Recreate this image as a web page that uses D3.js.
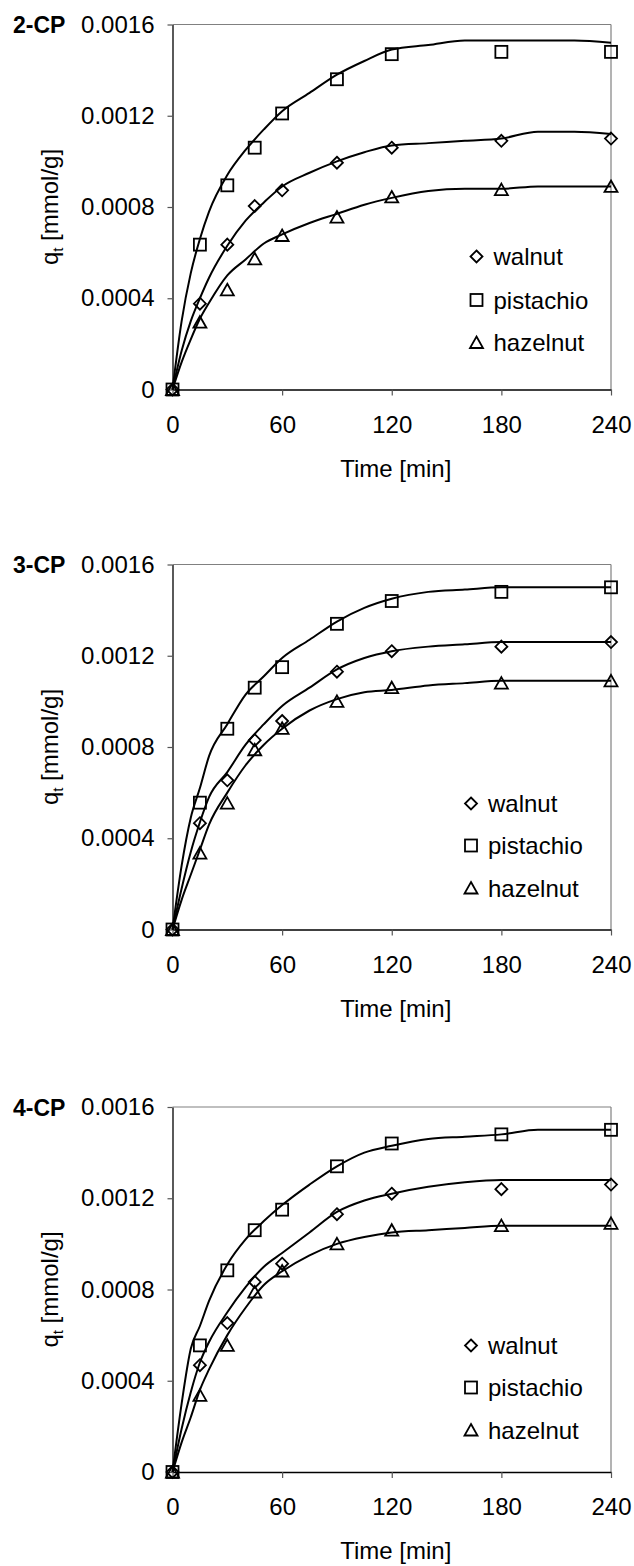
<!DOCTYPE html>
<html>
<script src="https://d3js.org/d3.v7.min.js"></script>
<style>
    body { margin: 0; background: #fff; }
    text { font-family: "Liberation Sans", Arial, sans-serif; fill: #000; }
</style>

<body>
    <div id="myPlot"></div>

    <script>
        // sampling times of the measured points and of the fitted curves [min]
        const times = [0, 15, 30, 45, 60, 90, 120, 180, 240]
        const fitTimes = [0, 5, 10, 15, 20, 30, 40, 50, 60, 75, 90, 105, 120, 140, 160, 180, 200, 220, 240]

        const xTicks = [0, 60, 120, 180, 240]
        const yTicks = [0, 0.0004, 0.0008, 0.0012, 0.0016]
        const panelNames = ["2-CP", "3-CP", "4-CP"]
        const seriesNames = ["walnut", "pistachio", "hazelnut"]

        // 2-CP
        const walnut2 = [0, 0.000376, 0.000635, 0.000804, 0.000873, 0.000994, 0.00106, 0.00109, 0.0011]
        const pistachio2 = [0, 0.000635, 0.000895, 0.00106, 0.00121, 0.00136, 0.00147, 0.00148, 0.00148]
        const hazelnut2 = [0, 0.000295, 0.000437, 0.000573, 0.000675, 0.000756, 0.000844, 0.000876, 0.00089]
        const walnut2Fit = [0, 0.00017, 0.00030, 0.00040, 0.00049, 0.00063, 0.00074, 0.00082, 0.00089, 0.00095, 0.00100, 0.00104, 0.00107, 0.00108, 0.00109, 0.00110, 0.00113, 0.00113, 0.00112]
        const pistachio2Fit = [0, 0.00030, 0.00051, 0.00066, 0.00078, 0.00094, 0.00105, 0.00114, 0.00122, 0.00130, 0.00138, 0.00144, 0.00149, 0.00151, 0.00153, 0.00153, 0.00153, 0.00153, 0.00152]
        const hazelnut2Fit = [0, 0.00012, 0.00022, 0.00031, 0.00038, 0.00050, 0.00057, 0.00064, 0.00068, 0.00073, 0.00077, 0.00081, 0.00084, 0.00087, 0.00088, 0.00088, 0.00089, 0.00089, 0.00089]

        // 3-CP
        const walnut3 = [0, 0.000466, 0.000654, 0.00083, 0.000914, 0.00113, 0.00122, 0.00124, 0.00126]
        const pistachio3 = [0, 0.000556, 0.00088, 0.00106, 0.00115, 0.00134, 0.00144, 0.00148, 0.0015]
        const hazelnut3 = [0, 0.000335, 0.000554, 0.000788, 0.000882, 0.001, 0.00106, 0.00108, 0.00109]
        const walnut3Fit = [0, 0.00018, 0.00034, 0.00047, 0.00058, 0.00069, 0.00081, 0.00090, 0.00098, 0.00106, 0.00114, 0.00119, 0.00122, 0.00124, 0.00125, 0.00126, 0.00126, 0.00126, 0.00126]
        const pistachio3Fit = [0, 0.00028, 0.00049, 0.00062, 0.00076, 0.00090, 0.00103, 0.00111, 0.00119, 0.00127, 0.00135, 0.00141, 0.00145, 0.00148, 0.00149, 0.00150, 0.00150, 0.00150, 0.00150]
        const hazelnut3Fit = [0, 0.00013, 0.00024, 0.00035, 0.00046, 0.00060, 0.00072, 0.00081, 0.00088, 0.00096, 0.00101, 0.00104, 0.00105, 0.00107, 0.00108, 0.00109, 0.00109, 0.00109, 0.00109]

        // 4-CP
        const walnut4 = [0, 0.000468, 0.000653, 0.000833, 0.000913, 0.00113, 0.00122, 0.00124, 0.00126]
        const pistachio4 = [0, 0.000555, 0.000884, 0.00106, 0.00115, 0.00134, 0.00144, 0.00148, 0.0015]
        const hazelnut4 = [0, 0.000336, 0.000555, 0.000789, 0.000881, 0.001, 0.00106, 0.00108, 0.00109]
        const walnut4Fit = [0, 0.00019, 0.00035, 0.00048, 0.00057, 0.00070, 0.00081, 0.00090, 0.00096, 0.00105, 0.00114, 0.00119, 0.00122, 0.00125, 0.00127, 0.00128, 0.00128, 0.00128, 0.00128]
        const pistachio4Fit = [0, 0.00030, 0.00054, 0.00064, 0.00075, 0.00091, 0.00102, 0.00110, 0.00117, 0.00126, 0.00134, 0.00140, 0.00143, 0.00146, 0.00147, 0.00148, 0.00150, 0.00150, 0.00150]
        const hazelnut4Fit = [0, 0.00013, 0.00024, 0.00036, 0.00045, 0.00060, 0.00072, 0.00082, 0.00088, 0.00095, 0.00100, 0.00103, 0.00105, 0.00106, 0.00107, 0.00108, 0.00108, 0.00108, 0.00108]

        const points = [[walnut2, pistachio2, hazelnut2], [walnut3, pistachio3, hazelnut3], [walnut4, pistachio4, hazelnut4]]
        const fits = [[walnut2Fit, pistachio2Fit, hazelnut2Fit], [walnut3Fit, pistachio3Fit, hazelnut3Fit], [walnut4Fit, pistachio4Fit, hazelnut4Fit]]

        // layout
        const width = 634, height = 1566
        const panelTop = [24.5, 564.5, 1107]
        const plotH = 365
        const left = 172.5, right = 611
        const legendX = [476.5, 471, 471]
        const legendY = [[232, 275.5, 318], [239, 281, 323.5], [238.5, 280.5, 323]]

        const svg = d3.select("#myPlot")
            .append("svg")
            .attr("width", width)
            .attr("height", height);

        svg.append("rect").attr("width", width).attr("height", height).attr("fill", "#fff");

        // marker outlines
        function marker(g, kind) {
            if (kind === 0) {
                g.append("path").attr("d", "M0,-6L6,0L0,6L-6,0Z");
            } else if (kind === 1) {
                g.append("rect").attr("x", -6).attr("y", -6).attr("width", 12).attr("height", 12);
            } else {
                g.append("path").attr("d", "M0,-6L6.5,5.5L-6.5,5.5Z");
            }
            g.selectAll("path,rect")
                .attr("fill", "none")
                .attr("stroke", "#000")
                .attr("stroke-width", 1.8);
        }

        panelNames.forEach((name, p) => {
            const top = panelTop[p]
            const x = d3.scaleLinear().domain([0, 240]).range([left, right])
            const y = d3.scaleLinear().domain([0, 0.0016]).range([top + plotH, top])
            const g = svg.append("g")

            // frame: top and right in grey
            g.append("line")
                .attr("x1", left).attr("x2", right).attr("y1", top).attr("y2", top)
                .attr("stroke", "#808080").attr("stroke-width", 1.2);
            g.append("line")
                .attr("x1", right).attr("x2", right).attr("y1", top).attr("y2", top + plotH)
                .attr("stroke", "#808080").attr("stroke-width", 1.2);

            const yAxis = g.append("g")
                .attr("transform", `translate(${left},0)`)
                .call(d3.axisLeft(y).tickValues(yTicks).tickSize(5).tickSizeOuter(0).tickPadding(13)
                    .tickFormat(d => d === 0 ? "0" : d.toFixed(4)));
            const xAxis = g.append("g")
                .attr("transform", `translate(0,${top + plotH})`)
                .call(d3.axisBottom(x).tickValues(xTicks).tickSize(6).tickSizeOuter(0).tickPadding(20));

            [yAxis, xAxis].forEach(a => {
                a.select(".domain").attr("stroke", "#000").attr("stroke-width", 1.3);
                a.selectAll(".tick line").attr("stroke", "#555").attr("stroke-width", 1.2);
                a.selectAll(".tick text").attr("font-size", 24).attr("font-family", null).attr("fill", "#000");
            });

            // fitted curves
            const line = d3.line()
                .x((d, i) => x(fitTimes[i]))
                .y(d => y(d))
                .curve(d3.curveMonotoneX);
            fits[p].forEach(f => {
                g.append("path")
                    .datum(f)
                    .attr("fill", "none")
                    .attr("stroke", "#000")
                    .attr("stroke-width", 2)
                    .attr("stroke-linejoin", "round")
                    .attr("d", line);
            });

            // measured points
            points[p].forEach((s, k) => {
                g.append("g").selectAll("g")
                    .data(s)
                    .join("g")
                    .attr("transform", (d, i) => `translate(${x(times[i])},${y(d)})`)
                    .each(function () { marker(d3.select(this), k); });
            });

            // legend
            seriesNames.forEach((s, k) => {
                const lg = g.append("g").attr("transform", `translate(${legendX[p]},${top + legendY[p][k]})`);
                marker(lg, k);
                lg.append("text").attr("x", 17).attr("y", 8.5).attr("font-size", 24).text(s);
            });

            // panel label
            g.append("text")
                .attr("x", 13).attr("y", top + 8.5)
                .attr("font-size", 23).attr("font-weight", "bold")
                .text(name);

            // axis titles
            g.append("text")
                .attr("x", (left + right) / 2 + 4).attr("y", top + plotH + 87)
                .attr("text-anchor", "middle").attr("font-size", 24)
                .text("Time [min]");

            const yt = g.append("text")
                .attr("transform", `translate(58,${top + plotH / 2}) rotate(-90)`)
                .attr("text-anchor", "middle").attr("font-size", 24);
            yt.append("tspan").text("q");
            yt.append("tspan").attr("font-size", 15).attr("dy", 5).text("t");
            yt.append("tspan").attr("dy", -5).text(" [mmol/g]");
        });
    </script>

</body>

</html>
